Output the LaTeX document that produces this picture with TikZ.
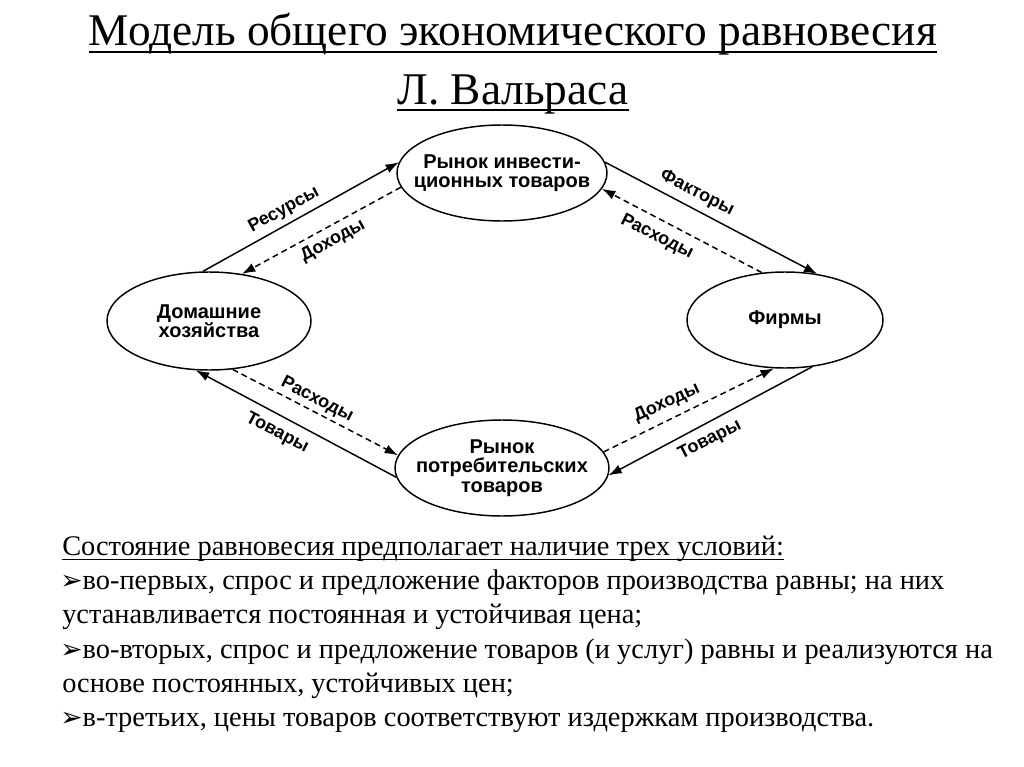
\documentclass[tikz,border=0pt]{standalone}
\usepackage{fontspec}
\setmainfont{Liberation Serif}
\newfontfamily\arialf{Liberation Sans}
\newfontfamily\symf{DejaVu Sans}
\usetikzlibrary{shapes.geometric,arrows.meta}
\newcommand{\bul}{{\symf\fontsize{20}{20}\selectfont ➢}}
\begin{document}
\begin{tikzpicture}[x=0.75pt,y=-0.75pt,
  ell/.style={ellipse,draw,line width=1.1pt,inner sep=0pt},
  txt/.style={align=center,inner sep=0pt,font=\arialf\bfseries\fontsize{15}{14.4}\selectfont},
  lab/.style={font=\arialf\bfseries\fontsize{13.5}{14}\selectfont,inner sep=0pt},
  flow/.style={line width=1.1pt,-{Latex[length=10pt,width=7pt]}},
  back/.style={flow,dash pattern=on 4.5pt off 3pt},
  body/.style={anchor=base west,inner sep=0pt,font=\fontsize{21.3}{25}\selectfont},
  ttl/.style={anchor=base,inner sep=0pt,font=\fontsize{34}{38}\selectfont},
  uline/.style={line width=1.4pt}]
\useasboundingbox (0,0) rectangle (1024,767);
\fill[white] (0,0) rectangle (1024,767);

% title
\node[ttl] (t1) at (513,46) {Модель общего экономического равновесия};
\node[ttl] (t2) at (513,104) {Л. Вальраса};
\draw[uline] ([yshift=-4.5pt]t1.base west) -- ([yshift=-4.5pt]t1.base east);
\draw[uline] ([yshift=-4.5pt]t2.base west) -- ([yshift=-4.5pt]t2.base east);

% ellipses
\node[ell,minimum width=157.5pt,minimum height=72pt,
  label={[txt]center:{Рынок инвести-\\ционных товаров}}] (T) at (502,173) {};
\node[ell,minimum width=153pt,minimum height=73.5pt,
  label={[txt]center:{Домашние\\хозяйства}}] (L) at (209,321) {};
\node[ell,minimum width=147pt,minimum height=72pt,
  label={[txt]center:{Фирмы}}] (R) at (785,320) {};
\node[ell,minimum width=160.5pt,minimum height=72pt,
  label={[txt]center:{Рынок\\потребительских\\товаров}}] (B) at (502,468) {};

% connectors
\draw[flow] (L.97) -- (T.174);
\draw[back] (T.188) -- (L.55);
\draw[flow] (T.6) -- (R.55);
\draw[back] (R.116) -- (T.351);
\draw[flow] (B.185) -- (L.255);
\draw[back] (L.296) -- (B.173);
\draw[back] (B.9) -- (R.257);
\draw[flow] (R.300) -- (B.356);

% labels
\node[lab,rotate=28.5] (lres) at (284,210) {Ресурсы};
\node[lab,rotate=28.7] (ldoh1) at (333,241) {Доходы};
\node[lab,rotate=-26.8] (lfak) at (697,193) {Факторы};
\node[lab,rotate=-26.9] (lras1) at (657,237) {Расходы};
\node[lab,rotate=-27.4] (lras2) at (317,400) {Расходы};
\node[lab,rotate=-27.7] (ltov1) at (277,433) {Товары};
\node[lab,rotate=25] (ldoh2) at (667,403) {Доходы};
\node[lab,rotate=27] (ltov2) at (710,440) {Товары};

% body text
\node[body] (s1) at (62,555) {Состояние равновесия предполагает наличие трех условий:};
\draw[line width=1pt] ([yshift=-3.5pt]s1.base west) -- ([yshift=-3.5pt]s1.base east);
\node[body] (s2) at (60,589) {\bul во-первых, спрос и предложение факторов производства равны; на них};
\node[body] (s3) at (62,623) {устанавливается постоянная и устойчивая цена;};
\node[body] (s4) at (60,658) {\bul во-вторых, спрос и предложение товаров (и услуг) равны и реализуются на};
\node[body] (s5) at (62,692) {основе постоянных, устойчивых цен;};
\node[body] (s6) at (60,726) {\bul в-третьих, цены товаров соответствуют издержкам производства.};
\end{tikzpicture}
\end{document}
